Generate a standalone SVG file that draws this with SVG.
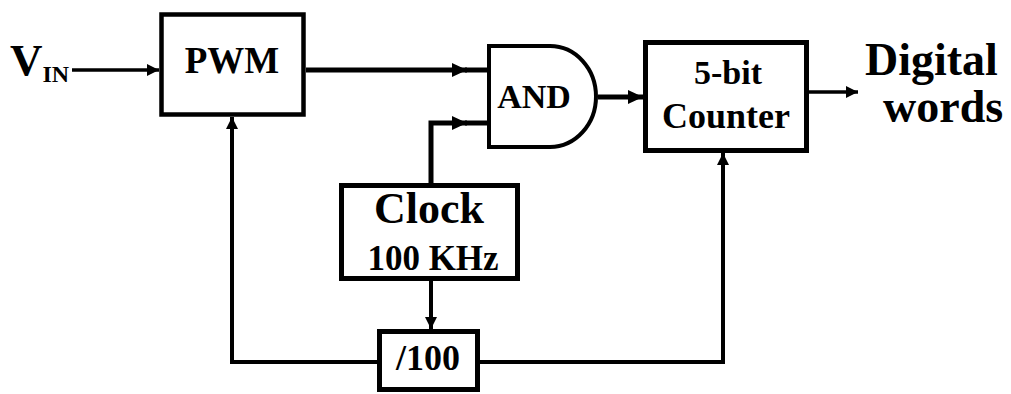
<svg xmlns="http://www.w3.org/2000/svg" width="1011" height="394" viewBox="0 0 1011 394">
<style>
.box{fill:#fff;stroke:#000;stroke-width:5}
.ln{fill:none;stroke:#000;stroke-width:4}
.tx{font-family:"Liberation Serif","Times New Roman",serif;font-weight:bold;fill:#000}
.mid{text-anchor:middle}
</style>
<defs>
<marker id="ab" markerUnits="userSpaceOnUse" markerWidth="16" markerHeight="16" refX="15" refY="8" orient="auto">
<path d="M0,1 L15,8 L0,15 z" fill="#000"/>
</marker>
<marker id="as" markerUnits="userSpaceOnUse" markerWidth="14" markerHeight="14" refX="12" refY="7" orient="auto">
<path d="M0,1 L12,7 L0,13 z" fill="#000"/>
</marker>
</defs>
<rect width="1011" height="394" fill="#fff"/>
<g id="connectors">
<path class="ln" d="M72,70 H159" marker-end="url(#as)" style="stroke-width:3.5"/>
<path class="ln" d="M306,70 H467" marker-end="url(#ab)" style="stroke-width:5"/>
<path class="ln" d="M465,70 H489" style="stroke-width:5"/>
<path class="ln" d="M431,183 V123 H467" marker-end="url(#ab)" style="stroke-width:5"/>
<path class="ln" d="M465,123 H489" style="stroke-width:5"/>
<path class="ln" d="M598,97 H643" marker-end="url(#ab)" style="stroke-width:5"/>
<path class="ln" d="M809,92 H858" marker-end="url(#as)" style="stroke-width:3.5"/>
<path class="ln" d="M431,281 V329" marker-end="url(#as)"/>
<path class="ln" d="M377,362 H232 V117" marker-end="url(#as)"/>
<path class="ln" d="M480,362 H723 V153" marker-end="url(#as)"/>
</g>
<g id="vin">
<text class="tx" x="10" y="75" font-size="45">V<tspan dy="7" font-size="24">IN</tspan></text>
</g>
<g id="pwm">
<rect class="box" x="161.5" y="14.5" width="142" height="100" style="stroke-width:4.5"/>
<text class="tx mid" x="232" y="73" font-size="37">PWM</text>
</g>
<g id="and">
<path class="box" d="M489,46 H550 A46,50.5 0 0 1 550,147 H489 Z" style="stroke-width:4"/>
<text class="tx mid" x="534" y="108" font-size="34">AND</text>
</g>
<g id="counter">
<rect class="box" x="645.5" y="42.5" width="161" height="108"/>
<text class="tx mid" x="728" y="84" font-size="34">5-bit</text>
<text class="tx mid" x="726" y="128" font-size="36">Counter</text>
</g>
<g id="output">
<text class="tx" x="865" y="75" font-size="46">Digital</text>
<text class="tx" x="883" y="122" font-size="46">words</text>
</g>
<g id="clock">
<rect class="box" x="341.5" y="185.5" width="176" height="93"/>
<text class="tx mid" x="429" y="223" font-size="44">Clock</text>
<text class="tx mid" x="433" y="270" font-size="35">100 KHz</text>
</g>
<g id="div100">
<rect class="box" x="379.5" y="331.5" width="98" height="58"/>
<text class="tx mid" x="428" y="370" font-size="36">/100</text>
</g>
</svg>
